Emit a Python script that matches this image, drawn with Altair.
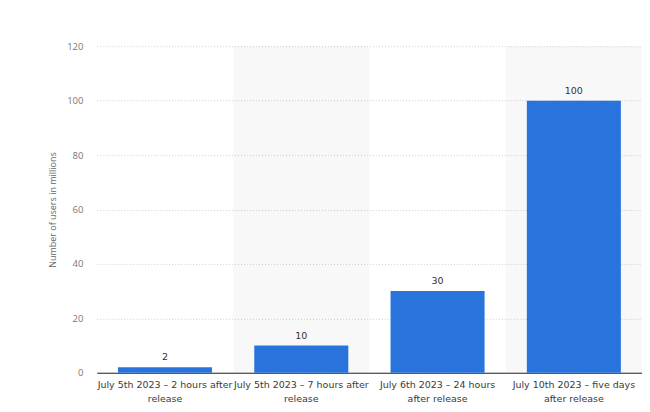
import altair as alt
import pandas as pd

categories = [
    "July 5th 2023 – 2 hours after\nrelease",
    "July 5th 2023 – 7 hours after\nrelease",
    "July 6th 2023 – 24 hours\nafter release",
    "July 10th 2023 – five days\nafter release",
]
users_millions = [2, 10, 30, 100]
y_ticks = [0, 20, 40, 60, 80, 100, 120]

df = pd.DataFrame({"category": categories, "users": users_millions})

W, H = 546, 327
FONT = "DejaVu Sans"

band_x = alt.X("category:N", sort=None,
               scale=alt.Scale(paddingInner=0, paddingOuter=0),
               axis=None)

shaded = alt.FieldOneOfPredicate(field="category", oneOf=[categories[1], categories[3]])
bands = alt.Chart(df).mark_rect(color="#000000").encode(
    x=band_x,
    y=alt.datum(120),
    y2=alt.datum(0),
    opacity=alt.condition(shaded, alt.value(0.028), alt.value(0)),
)

x_enc = alt.X(
    "category:N", sort=None, title=None,
    scale=alt.Scale(paddingInner=0.31, paddingOuter=0.155),
    axis=alt.Axis(
        labelAngle=0, labelExpr="split(datum.label, '\\n')",
        labelFont=FONT, labelFontSize=9.5, labelColor="#3a3a3a",
        labelLineHeight=14, labelPadding=7, labelBaseline="top",
        ticks=False, domain=True, domainColor="#222222", domainWidth=1,
        grid=False, labelLimit=0,
    ),
)
y_enc = alt.Y(
    "users:Q",
    scale=alt.Scale(domain=[0, 120], nice=False),
    axis=alt.Axis(
        values=y_ticks, title="Number of users in millions",
        titleFont="Open Sans", titleFontSize=9, titleFontWeight="normal",
        titleColor="#666666", titleX=-39,
        labelFont="Open Sans", labelFontSize=9.5, labelColor="#777777",
        labelPadding=14, ticks=False, domain=False,
        grid=True, gridColor="#cfcfcf", gridDash=[1, 2], gridWidth=1,
    ),
)

bars = alt.Chart(df).mark_bar(color="#2874dc").encode(x=x_enc, y=y_enc)
labels = alt.Chart(df).mark_text(
    baseline="bottom", dy=-5, font=FONT, fontSize=9.5, color="#333333"
).encode(x=x_enc, y=y_enc, text=alt.Text("users:Q"))

chart = alt.layer(bands, alt.layer(bars, labels)).resolve_scale(x="independent").properties(
    width=W, height=H,
    autosize=alt.AutoSizeParams(type="none"),
    padding={"left": 89, "top": 38, "right": 0, "bottom": 31},
    background="#ffffff",
).configure_view(stroke=None)

chart.save("out.html", embed_options={"renderer": "svg", "actions": False})
